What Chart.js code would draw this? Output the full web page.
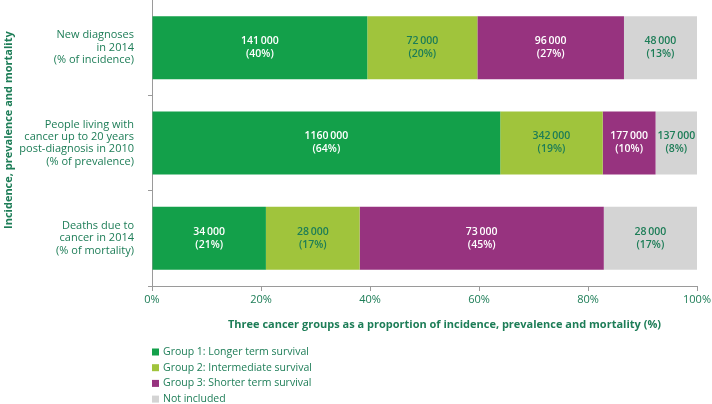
<!DOCTYPE html>
<html>
<head>
<meta charset="utf-8">
<script src="https://cdn.jsdelivr.net/npm/chart.js@4/dist/chart.umd.min.js"></script>
<style>
html,body{margin:0;padding:0;background:#fff;}
#wrap{width:712px;height:404px;position:relative;}
</style>
</head>
<body>
<div id="wrap"><canvas id="c" width="712" height="404"></canvas></div>
<script>
// ---- data ----
const categories = [
  ["New diagnoses", "in 2014", "(% of incidence)"],
  ["People living with", "cancer up to 20 years", "post-diagnosis in 2010", "(% of prevalence)"],
  ["Deaths due to", "cancer in 2014", "(% of mortality)"]
];
const seriesNames = ["Group 1: Longer term survival", "Group 2: Intermediate survival", "Group 3: Shorter term survival", "Not included"];
// share of each row (%), as drawn
const group1Share = [39.5, 63.9, 20.9];
const group2Share = [20.2, 18.8, 17.2];
const group3Share = [26.9, 9.7, 44.8];
const notIncShare = [13.4, 7.6, 17.1];
// counts printed in the bars
const group1Count = [141000, 1160000, 34000];
const group2Count = [72000, 342000, 28000];
const group3Count = [96000, 177000, 73000];
const notIncCount = [48000, 137000, 28000];
// rounded percentages printed in the bars
const group1Pct = [40, 64, 21];
const group2Pct = [20, 19, 17];
const group3Pct = [27, 10, 45];
const notIncPct = [13, 8, 17];
const xTicks = [0, 20, 40, 60, 80, 100];
const xTitle = 'Three cancer groups as a proportion of incidence, prevalence and mortality (%)';
const yTitle = 'Incidence, prevalence and mortality';

const GREEN = '#13a04a', LIME = '#a0c43c', PURPLE = '#97337f', GREY = '#d4d4d4';
const TXT = '#1d7d57';
const FONT = '"Open Sans", Lato, sans-serif';

function fmt(n) {
  const s = String(n);
  return s.length > 3 ? s.slice(0, -3) + '\u2009' + s.slice(-3) : s;
}

const datasets = [
  {label: seriesNames[0], data: group1Share, counts: group1Count, pcts: group1Pct, backgroundColor: GREEN, txt: '#ffffff'},
  {label: seriesNames[1], data: group2Share, counts: group2Count, pcts: group2Pct, backgroundColor: LIME, txt: TXT},
  {label: seriesNames[2], data: group3Share, counts: group3Count, pcts: group3Pct, backgroundColor: PURPLE, txt: '#ffffff'},
  {label: seriesNames[3], data: notIncShare, counts: notIncCount, pcts: notIncPct, backgroundColor: GREY, txt: TXT}
].map(d => Object.assign(d, {borderWidth: 0, barPercentage: 0.66, categoryPercentage: 1}));

const labelPlugin = {
  id: 'barLabels',
  afterDatasetsDraw(chart) {
    const ctx = chart.ctx;
    ctx.save();
    ctx.font = '600 10.5px ' + FONT;
    ctx.textAlign = 'center';
    ctx.textBaseline = 'middle';
    chart.data.datasets.forEach((ds, i) => {
      chart.getDatasetMeta(i).data.forEach((bar, j) => {
        const p = bar.getProps(['x', 'y', 'base'], true);
        const cx = (p.x + p.base) / 2;
        ctx.fillStyle = ds.txt;
        ctx.fillText(fmt(ds.counts[j]), cx, p.y - 6.5);
        ctx.fillText('(' + ds.pcts[j] + '%)', cx, p.y + 6.5);
      });
    });
    ctx.restore();
  }
};

const decorPlugin = {
  id: 'decor',
  afterDraw(chart) {
    const ctx = chart.ctx;
    const a = chart.chartArea;
    ctx.save();
    // axis titles
    ctx.fillStyle = TXT;
    ctx.font = 'bold 11px ' + FONT;
    ctx.textAlign = 'center';
    ctx.textBaseline = 'middle';
    ctx.fillText(xTitle, 444.5, a.bottom + 39);
    ctx.save();
    ctx.translate(9, a.top + (a.bottom - a.top) * 0.455);
    ctx.rotate(-Math.PI / 2);
    ctx.fillText(yTitle, 0, 0);
    ctx.restore();
    // legend
    ctx.font = '10.5px ' + FONT;
    ctx.textAlign = 'left';
    const x0 = a.left;
    chart.data.datasets.forEach((ds, i) => {
      const y = 352 + i * 15.7;
      ctx.fillStyle = ds.backgroundColor;
      ctx.fillRect(x0, y - 3.5, 7, 7);
      ctx.fillStyle = TXT;
      ctx.fillText(ds.label, x0 + 11, y);
    });
    ctx.restore();
  }
};

new Chart(document.getElementById('c'), {
  type: 'bar',
  data: {labels: categories, datasets},
  plugins: [labelPlugin, decorPlugin],
  options: {
    indexAxis: 'y',
    responsive: false,
    animation: false,
    layout: {padding: {left: 0, right: 15, top: 0, bottom: 68}},
    plugins: {legend: {display: false}, tooltip: {enabled: false}},
    scales: {
      x: {
        stacked: true, min: 0, max: 100,
        afterBuildTicks: s => { s.ticks = xTicks.map(v => ({value: v})); },
        ticks: {callback: v => v + '%', color: TXT, font: {family: FONT, size: 11}, padding: 2, maxRotation: 0},
        grid: {drawOnChartArea: false, tickLength: 5, color: '#9a9a9a'},
        border: {color: '#9a9a9a'},
        title: {display: false},
        afterFit: s => { s.height = 50; s.paddingLeft = 0; s.paddingRight = 0; }
      },
      y: {
        stacked: true,
        ticks: {color: TXT, font: {family: FONT, size: 11, lineHeight: 1.12}, padding: 14},
        grid: {drawOnChartArea: false, tickLength: 4, color: '#9a9a9a', offset: true},
        border: {color: '#9a9a9a'},
        title: {display: false},
        afterFit: s => { s.width = 152; s.paddingTop = 0; s.paddingBottom = 0; }
      }
    }
  }
});
</script>
</body>
</html>
